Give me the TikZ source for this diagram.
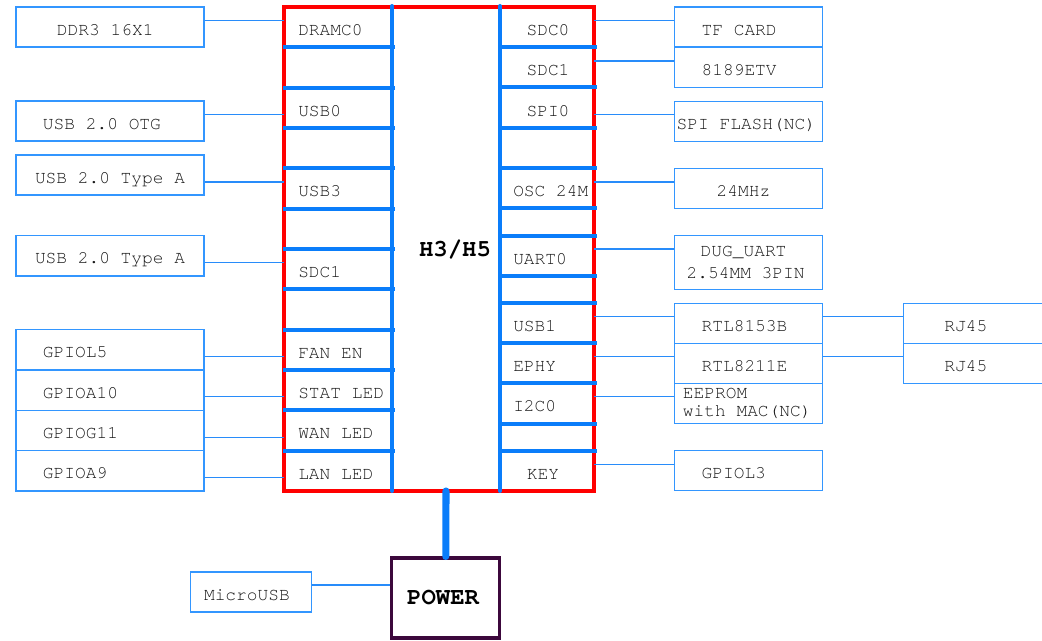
\documentclass[tikz,border=0pt]{standalone}
\usepackage{fontspec}
\setmainfont{TeX Gyre Cursor}
\definecolor{busblue}{RGB}{10,125,250}
\definecolor{boxblue}{RGB}{51,150,255}
\definecolor{wireblue}{RGB}{40,140,250}
\definecolor{chipred}{RGB}{255,0,0}
\definecolor{txt}{RGB}{25,25,25}
\definecolor{pwr}{RGB}{60,8,60}
\newcommand{\lblfont}{\fontsize{13.4}{16.5}\selectfont}
\newcommand{\ltxt}[2]{\makebox[141pt][l]{\hspace*{#1}#2}}
\newcommand{\rtxt}[2]{\makebox[111.3pt][l]{\hspace*{#1}#2}}
\begin{document}
\begin{tikzpicture}[x=0.75pt,y=-0.75pt,
  extbox/.style={draw=boxblue,line width=1.1pt,fill=white,inner sep=0pt,font=\lblfont,text=txt},
  lowtxt/.style={text height=12.1pt,text depth=0pt},
  lbox/.style={extbox,lowtxt,minimum width=141pt,minimum height=30.2pt},
  rbox/.style={extbox,minimum width=111.3pt,minimum height=30pt},
  pinlbl/.style={font=\lblfont,text=txt,inner sep=0pt},
  wire/.style={draw=wireblue,line width=0.8pt},
  bus/.style={draw=busblue,line width=2.8pt},
  vbus/.style={draw=busblue,line width=3pt,line cap=round}]
\useasboundingbox (0,0) rectangle (1042,641);
% chip
\node[draw=chipred,line width=2.6pt,minimum width=232.5pt,minimum height=363pt,inner sep=0pt] (chip) at (439,249) {};
% left bus rows
\foreach \k in {1,...,11}{
  \draw[bus] (283,{7+40.333*\k}) -- (395,{7+40.333*\k});
}
% right bus rows
\foreach \yy in {47,87.3,127.7,168,208.3,236,276,303.3,343.3,383.3,424,451}{
  \draw[bus] (498,\yy) -- (597,\yy);
}
\draw[vbus] (392,6) -- (392,491);
\draw[vbus] (500,6) -- (500,491);
\node[font=\fontsize{18}{20}\selectfont\bfseries,text=black] (chipname) at (455,250) {H3/H5};
% left pin labels
\node[pinlbl,anchor=west] (lDram) at (298,30) {DRAMC0};
\node[pinlbl,anchor=west] (lUsb0) at (298,111) {USB0};
\node[pinlbl,anchor=west] (lUsb3) at (298,191) {USB3};
\node[pinlbl,anchor=west] (lSdc1) at (298,272) {SDC1};
\node[pinlbl,anchor=west] (lFan) at (298,353) {FAN EN};
\node[pinlbl,anchor=west] (lStat) at (298,393) {STAT LED};
\node[pinlbl,anchor=west] (lWan) at (298,433) {WAN LED};
\node[pinlbl,anchor=west] (lLan) at (298,474) {LAN LED};
% right pin labels
\node[pinlbl] (rSdc0) at (548,30) {SDC0};
\node[pinlbl] (rSdc1) at (548,70) {SDC1};
\node[pinlbl] (rSpi) at (548,111) {SPI0};
\node[pinlbl,anchor=west] (rOsc) at (513,191) {OSC 24M};
\node[pinlbl,anchor=west] (rUart) at (513,259) {UART0};
\node[pinlbl,anchor=west] (rUsb1) at (513,326) {USB1};
\node[pinlbl,anchor=west] (rEphy) at (513,366) {EPHY};
\node[pinlbl,anchor=west] (rI2c) at (513,406) {I2C0};
\node[pinlbl] (rKey) at (543,474) {KEY};
% pin coordinates
\coordinate (pL1) at (284,20.7);
\coordinate (pL2) at (284,114.7);
\coordinate (pL3) at (284,182);
\coordinate (pL4) at (284,262.7);
\coordinate (pL5) at (284,356.3);
\coordinate (pL6) at (284,396.7);
\coordinate (pL7) at (284,437.3);
\coordinate (pL8) at (284,477.3);
\coordinate (pR1) at (594,20.7);
\coordinate (pR2) at (594,61);
\coordinate (pR3) at (594,114.7);
\coordinate (pR4) at (594,182);
\coordinate (pR5) at (594,249);
\coordinate (pR6) at (594,316.7);
\coordinate (pR7) at (594,356.7);
\coordinate (pR8) at (594,396.7);
\coordinate (pR9) at (594,464.3);
\coordinate (chipbot) at (446,491);
% left boxes
\node[lbox] (ddr) at (110,27) {\ltxt{30.75pt}{DDR3 16X1}};
\node[lbox] (otg) at (110,121) {\ltxt{20.25pt}{USB 2.0 OTG}};
\node[lbox] (typeA1) at (110,175) {\ltxt{14.25pt}{USB 2.0 Type A}};
\node[lbox] (typeA2) at (110,255.7) {\ltxt{14.25pt}{USB 2.0 Type A}};
\node[lbox] (gl5) at (110,349.8) {\ltxt{20.25pt}{GPIOL5}};
\node[lbox] (ga10) at (110,390.2) {\ltxt{20.25pt}{GPIOA10}};
\node[lbox] (gg11) at (110,430.4) {\ltxt{20.25pt}{GPIOG11}};
\node[lbox] (ga9) at (110,470.8) {\ltxt{20.25pt}{GPIOA9}};
% right boxes
\node[rbox,lowtxt] (tf) at (748.5,27) {\rtxt{20.5pt}{TF CARD}};
\node[rbox,lowtxt] (wifi) at (748.5,67.3) {\rtxt{20.5pt}{8189ETV}};
\node[rbox,lowtxt] (spi) at (748.5,121.3) {\rtxt{1.8pt}{SPI FLASH(NC)}};
\node[rbox,lowtxt] (osc) at (748.5,188.7) {\rtxt{31.8pt}{24MHz}};
\node[rbox,minimum height=40.2pt,align=left] (dug) at (748.5,262.5) {\rtxt{19.8pt}{DUG\_UART}\\\rtxt{9.3pt}{2.54MM 3PIN}};
\node[rbox,lowtxt] (r8153) at (748.5,323.3) {\rtxt{20.5pt}{RTL8153B}};
\node[rbox,lowtxt] (r8211) at (748.5,363.3) {\rtxt{20.5pt}{RTL8211E}};
\node[rbox,align=left] (eeprom) at (748.5,403.5) {\rtxt{6.5pt}{EEPROM}\\[-3pt]\rtxt{6.5pt}{with MAC(NC)}};
\node[rbox,lowtxt] (gl3) at (748.5,470.7) {\rtxt{20.5pt}{GPIOL3}};
\node[extbox,lowtxt,minimum height=30pt] (rj1) at (977,323.3) {\makebox[110pt][l]{\hspace*{30.5pt}RJ45}};
\node[extbox,lowtxt,minimum height=30pt] (rj2) at (977,363.3) {\makebox[110pt][l]{\hspace*{30.5pt}RJ45}};
% power
\node[draw=pwr,line width=2.3pt,minimum width=81.2pt,minimum height=60pt,inner sep=0pt,font=\fontsize{18}{20}\selectfont\bfseries,text=black] (power) at (445.8,598) {\hspace*{-4pt}POWER};
\node[extbox,lowtxt,minimum height=30pt] (musb) at (251.2,592) {\makebox[90.75pt][l]{\hspace*{10pt}MicroUSB}};
% connectors
\draw[wire] (ddr.east |- pL1) -- (pL1);
\draw[wire] (otg.east |- pL2) -- (pL2);
\draw[wire] (typeA1.east |- pL3) -- (pL3);
\draw[wire] (typeA2.east |- pL4) -- (pL4);
\draw[wire] (gl5.east |- pL5) -- (pL5);
\draw[wire] (ga10.east |- pL6) -- (pL6);
\draw[wire] (gg11.east |- pL7) -- (pL7);
\draw[wire] (ga9.east |- pL8) -- (pL8);
\draw[wire] (pR1) -- (tf.west |- pR1);
\draw[wire] (pR2) -- (wifi.west |- pR2);
\draw[wire] (pR3) -- (spi.west |- pR3);
\draw[wire] (pR4) -- (osc.west |- pR4);
\draw[wire] (pR5) -- (dug.west |- pR5);
\draw[wire] (pR6) -- (r8153.west |- pR6);
\draw[wire] (pR7) -- (r8211.west |- pR7);
\draw[wire] (pR8) -- (eeprom.west |- pR8);
\draw[wire] (pR9) -- (gl3.west |- pR9);
\draw[wire] (r8153.east |- 0,316.3) coordinate (q1) -- (rj1.west |- q1);
\draw[wire] (r8211.east |- 0,356.7) coordinate (q2) -- (rj2.west |- q2);
\draw[wire] (musb.east |- 0,585) coordinate (q3) -- (power.west |- q3);
\draw[busblue,line width=5.3pt,line cap=round] (chipbot) -- (power.north);
\end{tikzpicture}
\end{document}
